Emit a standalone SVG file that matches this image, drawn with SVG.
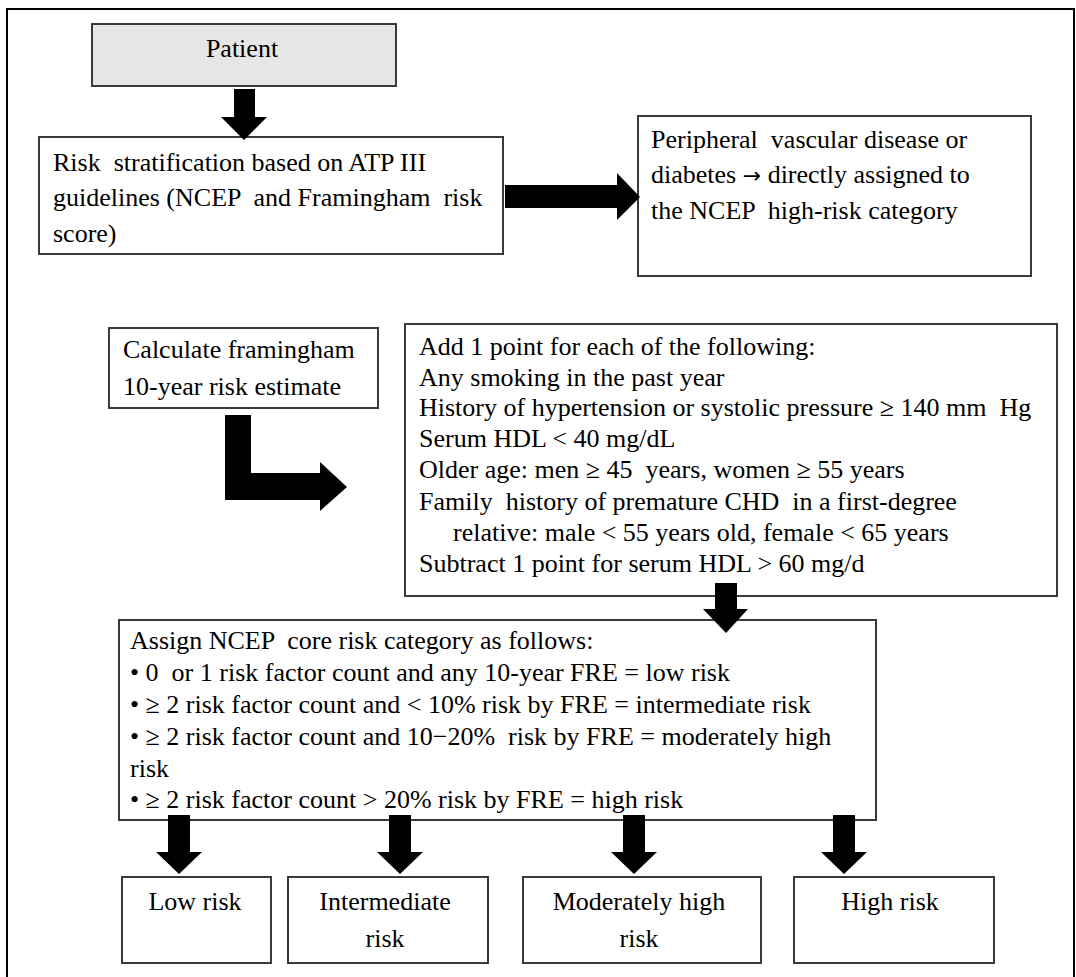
<svg xmlns="http://www.w3.org/2000/svg" width="1076" height="977" viewBox="0 0 1076 977">
<style>
.box{fill:#fff;stroke:#3a3a3a;stroke-width:2}
.t{font-family:"Liberation Serif","Times New Roman",serif;font-size:26px;fill:#000;white-space:pre}
.c{text-anchor:middle}
.ar{font-family:"DejaVu Sans",sans-serif;font-size:22px}
.arr{fill:#000}
</style>
<rect x="7" y="9" width="1067" height="990" fill="#fff" stroke="#000" stroke-width="2"/>
<g id="patient">
<rect x="92" y="24" width="304" height="62" class="box" style="fill:#e6e6e6"/>
<text x="242" y="57" class="t c">Patient</text>
</g>
<g id="risk-strat">
<rect x="39" y="137" width="464" height="117" class="box"/>
<text x="53" y="171" class="t">Risk  stratification based on ATP III</text>
<text x="53" y="206" class="t">guidelines (NCEP  and Framingham  risk</text>
<text x="53" y="242" class="t">score)</text>
</g>
<g id="pvd">
<rect x="638" y="116" width="393" height="160" class="box"/>
<text x="651" y="148" class="t">Peripheral  vascular disease or</text>
<text x="651" y="183" class="t">diabetes <tspan class="ar">→</tspan> directly assigned to</text>
<text x="651" y="219" class="t">the NCEP  high-risk category</text>
</g>
<g id="calc">
<rect x="109" y="328" width="269" height="80" class="box"/>
<text x="123" y="358" class="t">Calculate framingham</text>
<text x="123" y="395" class="t">10-year risk estimate</text>
</g>
<g id="points">
<rect x="405" y="324" width="652" height="272" class="box"/>
<text x="419" y="355" class="t">Add 1 point for each of the following:</text>
<text x="419" y="386" class="t">Any smoking in the past year</text>
<text x="419" y="416" class="t">History of hypertension or systolic pressure ≥ 140 mm  Hg</text>
<text x="419" y="447" class="t">Serum HDL &lt; 40 mg/dL</text>
<text x="419" y="478" class="t">Older age: men ≥ 45  years, women ≥ 55 years</text>
<text x="419" y="510" class="t">Family  history of premature CHD  in a first-degree</text>
<text x="453" y="541" class="t">relative: male &lt; 55 years old, female &lt; 65 years</text>
<text x="419" y="572" class="t">Subtract 1 point for serum HDL &gt; 60 mg/d</text>
</g>
<g id="assign">
<rect x="119" y="620" width="757" height="200" class="box"/>
<text x="130" y="649" class="t">Assign NCEP  core risk category as follows:</text>
<text x="130" y="681" class="t">• 0  or 1 risk factor count and any 10-year FRE = low risk</text>
<text x="130" y="713" class="t">• ≥ 2 risk factor count and &lt; 10% risk by FRE = intermediate risk</text>
<text x="130" y="745" class="t">• ≥ 2 risk factor count and 10−20%  risk by FRE = moderately high</text>
<text x="130" y="777" class="t">risk</text>
<text x="130" y="808" class="t">• ≥ 2 risk factor count &gt; 20% risk by FRE = high risk</text>
</g>
<g id="low">
<rect x="122" y="877" width="149" height="86" class="box"/>
<text x="195" y="910" class="t c">Low risk</text>
</g>
<g id="intermediate">
<rect x="288" y="877" width="200" height="86" class="box"/>
<text x="385" y="910" class="t c">Intermediate</text>
<text x="385" y="947" class="t c">risk</text>
</g>
<g id="modhigh">
<rect x="523" y="877" width="238" height="86" class="box"/>
<text x="639" y="910" class="t c">Moderately high</text>
<text x="639" y="947" class="t c">risk</text>
</g>
<g id="high">
<rect x="794" y="877" width="200" height="86" class="box"/>
<text x="890" y="910" class="t c">High risk</text>
</g>
<g id="connectors" class="arr">
<polygon points="234,89 255,89 255,117 267,117 244,140 221,117 234,117"/>
<polygon points="505,185 617,185 617,173 640,197 617,220 617,208 505,208"/>
<polygon points="225,415 251,415 251,473 320,473 320,462 347,487 320,511 320,500 225,500"/>
<polygon points="715,583 737,583 737,609 748,609 726,633 703,609 715,609"/>
<polygon points="168,815 190,815 190,852 202,852 179,874 156,852 168,852"/>
<polygon points="389,815 411,815 411,852 423,852 400,874 377,852 389,852"/>
<polygon points="623,815 645,815 645,852 657,852 634,874 611,852 623,852"/>
<polygon points="833,815 855,815 855,852 867,852 844,874 821,852 833,852"/>
</g>
</svg>
